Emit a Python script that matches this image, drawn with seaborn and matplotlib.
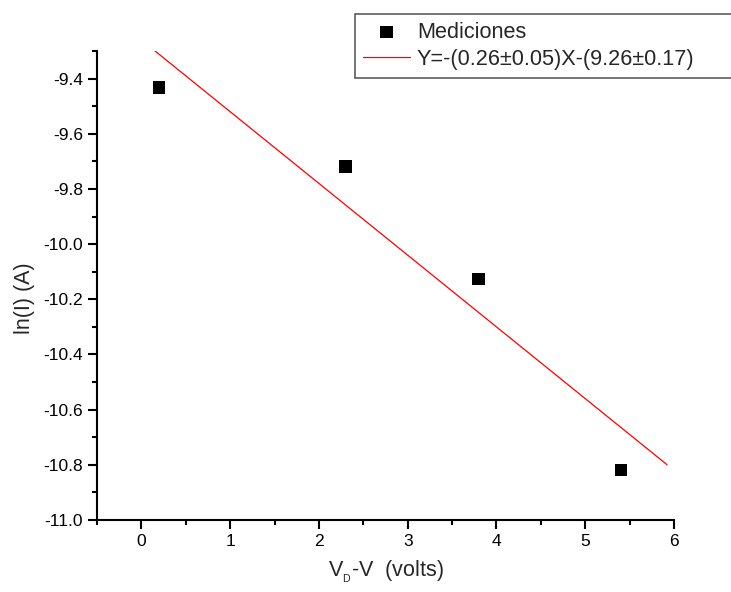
import numpy as np
import pandas as pd
import matplotlib
matplotlib.use("Agg")
import matplotlib.pyplot as plt
import seaborn as sns
from matplotlib.ticker import MultipleLocator

# Measured points: bias offset (V_D - V) and the log of the current
voltage = [0.2, 2.3, 3.8, 5.4]
ln_current = [-9.433, -9.719, -10.126, -10.819]

# Least-squares fit as reported in the legend
slope = -0.26
intercept = -9.26
fit_x = [0.15, 5.92]

series_label = "Mediciones"
fit_label = "Y=-(0.26\u00b10.05)X-(9.26\u00b10.17)"

sns.set_theme(style="ticks")
plt.rcParams["font.family"] = ["Liberation Sans", "DejaVu Sans"]
plt.rcParams["mathtext.fontset"] = "custom"
plt.rcParams["mathtext.rm"] = "Liberation Sans"
plt.rcParams["mathtext.it"] = "Liberation Sans"
plt.rcParams["mathtext.bf"] = "Liberation Sans"

points = pd.DataFrame({"x": voltage, "y": ln_current})
fit = pd.DataFrame({"x": fit_x, "y": [slope * v + intercept for v in fit_x]})

fig = plt.figure(figsize=(7.31, 5.92), dpi=100)
ax = fig.add_axes([97 / 731, 1 - 520 / 592, (674 - 97) / 731, (520 - 51) / 592])

sns.scatterplot(data=points, x="x", y="y", ax=ax, marker="s", s=80,
                color="black", edgecolor="none", label=series_label, zorder=3)
sns.lineplot(data=fit, x="x", y="y", ax=ax, color="#ff0000", linewidth=0.9,
             label=fit_label)

ax.set_xlim(-0.5, 6)
ax.set_ylim(-11.0, -9.3)
ax.xaxis.set_major_locator(MultipleLocator(1))
ax.xaxis.set_minor_locator(MultipleLocator(0.5))
ax.yaxis.set_minor_locator(MultipleLocator(0.1))
yt = np.round(np.arange(-11.0, -9.35, 0.2), 1)
ax.set_yticks(yt)
ax.set_yticklabels([f"{v:.1f}" for v in yt])

for side in ("top", "right"):
    ax.spines[side].set_visible(False)
for side in ("left", "bottom"):
    ax.spines[side].set_linewidth(1.5)
    ax.spines[side].set_color("black")

ax.tick_params(which="major", direction="out", length=6.5, width=1.5,
               labelsize=12.5, colors="black", pad=3.5)
ax.tick_params(which="minor", direction="out", length=3.5, width=1.5,
               colors="black")

ax.set_xlabel("V$_{_{\\mathrm{D}}}$-V  (volts)", fontsize=15.5, labelpad=7)
ax.set_ylabel("ln(I) (A)", fontsize=15.5)
ax.yaxis.set_label_coords(-0.108, 0.472)

ax.get_legend().remove()
handles, labels = ax.get_legend_handles_labels()
leg = fig.legend(handles, labels, loc="upper left",
                 bbox_to_anchor=(355 / 731, 1 - 14 / 592, (760 - 355) / 731, 0.0),
                 mode="expand", fontsize=15.6, frameon=True, fancybox=False,
                 borderpad=0.36, handlelength=2.2, handletextpad=0.3,
                 labelspacing=0.28, borderaxespad=0)
leg.get_frame().set_edgecolor("#333333")
leg.get_frame().set_linewidth(1.2)

fig.savefig("out.png", dpi=100)
